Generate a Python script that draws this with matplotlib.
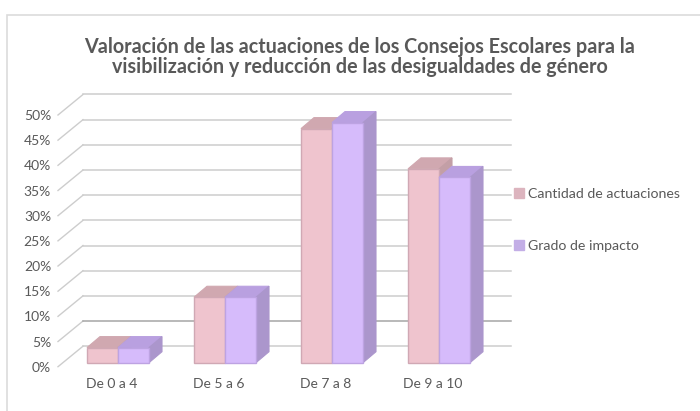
import matplotlib
matplotlib.use('Agg')
import matplotlib.pyplot as plt
from matplotlib.patches import Patch, Polygon, Rectangle

plt.rcParams['font.family'] = ['Lato', 'DejaVu Sans']

categories = ['De 0 a 4', 'De 5 a 6', 'De 7 a 8', 'De 9 a 10']
cantidad = [3, 13, 46.5, 38.5]
impacto = [3, 13, 47.7, 36.8]
ticks = [0, 5, 10, 15, 20, 25, 30, 35, 40, 45, 50]

W, H = 700, 411
fig = plt.figure(figsize=(W / 100, H / 100), dpi=100)
# axes = front plane of the fake 3d box, measured in pixels off the reference
left, right, y0, y50 = 58, 486, 366.7, 115
ax = fig.add_axes([left / W, 1 - y0 / H, (right - left) / W, (y0 - y50) / H])
ax.set_xlim(-0.5, 3.5)
ax.set_ylim(0, 50)
ax.patch.set_visible(False)
for s in ax.spines.values():
    s.set_visible(False)

px_x = 4 / (right - left)
px_y = 50 / (y0 - y50)
# pixel offsets converted to data units
wall_dx, wall_dy = 25 * px_x, 20.5 * px_y
depth_dx, depth_dy = 13 * px_x, 11 * px_y
shift_dx, shift_dy = 6.5 * px_x, 4 * px_y
bar_w = 31 * px_x

text_col = '#595959'
grid_col = '#cdcdcd'

# outer chart frame
fig.add_artist(Rectangle((7 / W, -0.05), 1.1, 1 - 15 / H + 0.05, transform=fig.transFigure,
                         fc='white', ec='#dcdcdc', lw=1.2, zorder=-1))

for t in ticks:
    col = '#a6a6a6' if t == 5 else grid_col
    ax.plot([-0.5, -0.5 + wall_dx], [t, t + wall_dy], color=grid_col, lw=1, clip_on=False, zorder=1)
    ax.plot([-0.5 + wall_dx, 3.5 + wall_dx], [t + wall_dy, t + wall_dy], color=col,
            lw=1.1, clip_on=False, zorder=1)


def draw_bar(x, val, front, top, side, edge, z):
    xl = x + shift_dx
    xr = xl + bar_w
    b = shift_dy
    v = val + b
    ax.add_patch(Polygon([(xl, v), (xr, v), (xr + depth_dx, v + depth_dy), (xl + depth_dx, v + depth_dy)],
                         fc=top, ec=top, lw=0.8, clip_on=False, zorder=z))
    ax.add_patch(Polygon([(xr, b), (xr + depth_dx, b + depth_dy), (xr + depth_dx, v + depth_dy), (xr, v)],
                         fc=side, ec=side, lw=0.8, clip_on=False, zorder=z))
    ax.bar(xl, val, width=bar_w, bottom=b, align='edge', color=front, edgecolor=edge, linewidth=1,
           clip_on=False, zorder=z + 0.1)


for i in range(len(categories)):
    z = 3 + i
    draw_bar(i - bar_w, cantidad[i], '#efc4ce', '#d0a8b0', '#c39fa6', '#d0a8b4', z)
    draw_bar(i, impacto[i], '#d6bbfb', '#b9a0e0', '#ab96cc', '#bda3e2', z + 0.3)

ax.set_xticks(range(4))
ax.set_xticklabels(categories, fontsize=10, color=text_col)
ax.set_yticks(ticks)
ax.set_yticklabels([str(t) + '%' for t in ticks], fontsize=10, color=text_col)
ax.tick_params(axis='both', length=0)
ax.tick_params(axis='y', pad=5)
ax.tick_params(axis='x', pad=8)

fig.text(360 / W, 1 - 57 / H,
         'Valoración de las actuaciones de los Consejos Escolares para la\n'
         'visibilización y reducción de las desigualdades de género',
         ha='center', va='center', fontsize=14.2, fontweight='bold', color=text_col, linespacing=0.97)

handles = [Patch(color='#dcb4be', label='Cantidad de actuaciones'),
           Patch(color='#c3aee6', label='Grado de impacto')]
fig.legend(handles=handles, loc='center left', bbox_to_anchor=(514 / W, 1 - 220 / H), frameon=False,
           fontsize=10.2, labelcolor=text_col, handlelength=0.72, handleheight=0.72, handletextpad=0.3,
           labelspacing=2.8, borderpad=0, borderaxespad=0)

fig.savefig('out.png', dpi=100)
